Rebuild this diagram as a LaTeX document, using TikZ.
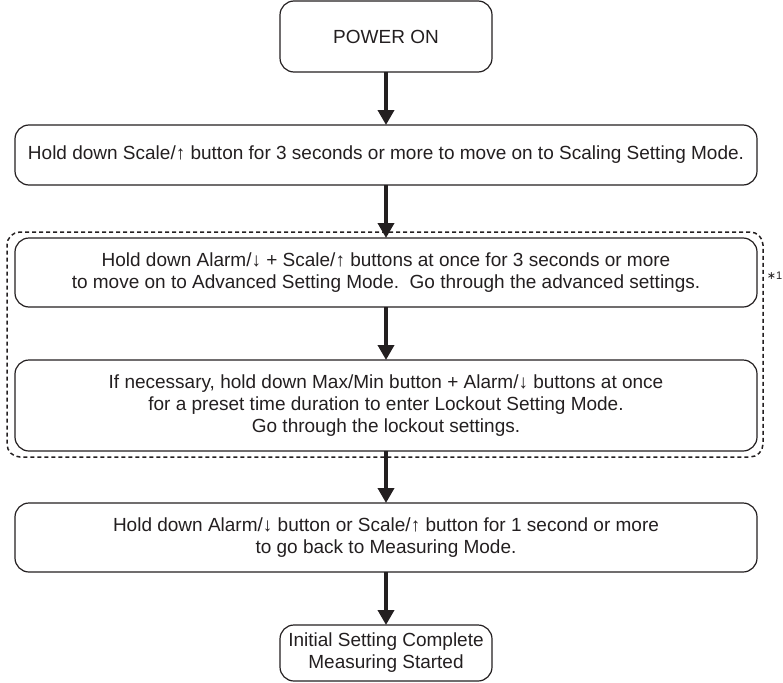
\documentclass[tikz,border=0pt]{standalone}
\usepackage{fontspec}
\setmainfont{Liberation Sans}
\newfontfamily\symfont{DejaVu Sans}
\usetikzlibrary{arrows.meta}
\definecolor{ink}{HTML}{231F20}
\tikzset{
  stepbox/.style={draw=ink, line width=1.2pt, rounded corners=14pt, align=center,
    text=ink, inner sep=0pt, outer sep=0pt,
    font=\fontsize{19}{22}\selectfont},
  flow/.style={draw=ink, line width=3.6pt,
    -{Triangle[width=16pt,length=15pt]}},
  dashframe/.style={draw=ink, line width=1.5pt, dash pattern=on 4pt off 3pt,
    rounded corners=13pt, inner sep=0pt, outer sep=0pt}
}
\begin{document}
\begin{tikzpicture}[x=1pt,y=-1pt]
  \useasboundingbox (0,0) rectangle (783,682);

  % grouping frame for the advanced and lockout settings
  \node[dashframe, minimum width=756pt, minimum height=225pt] (grp) at (385,344.5) {};
  \node[anchor=east, inner sep=0pt, text=ink, font=\fontsize{11}{13}\selectfont] (note)
    at (782.5,276) {{\symfont ∗}1};

  \node[stepbox, minimum width=212pt, minimum height=71pt] (on) at (386,36.5) {POWER ON};
  \node[stepbox, minimum width=742pt, minimum height=60pt] (scale) at (386,155)
    {Hold down Scale/↑ button for 3 seconds or more to move on to Scaling Setting Mode.};
  \node[stepbox, minimum width=742pt, minimum height=69pt] (adv) at (386,272.5)
    {Hold down Alarm/↓ + Scale/↑ buttons at once for 3 seconds or more\\
     to move on to Advanced Setting Mode.\ \ Go through the advanced settings.};
  \node[stepbox, minimum width=742pt, minimum height=91pt] (lock) at (386,405.5)
    {If necessary, hold down Max/Min button + Alarm/↓ buttons at once\\
     for a preset time duration to enter Lockout Setting Mode.\\
     Go through the lockout settings.};
  \node[stepbox, minimum width=742pt, minimum height=69pt] (back) at (386,537.5)
    {Hold down Alarm/↓ button or Scale/↑ button for 1 second or more\\
     to go back to Measuring Mode.};
  \node[stepbox, minimum width=212pt, minimum height=56pt] (done) at (386,653)
    {Initial Setting Complete\\Measuring Started};

  \draw[flow] (on.south) -- (scale.north);
  \draw[flow] (scale.south) -- (adv.north);
  \draw[flow] (adv.south) -- (lock.north);
  \draw[flow] (lock.south) -- (back.north);
  \draw[flow] (back.south) -- (done.north);
\end{tikzpicture}
\end{document}
